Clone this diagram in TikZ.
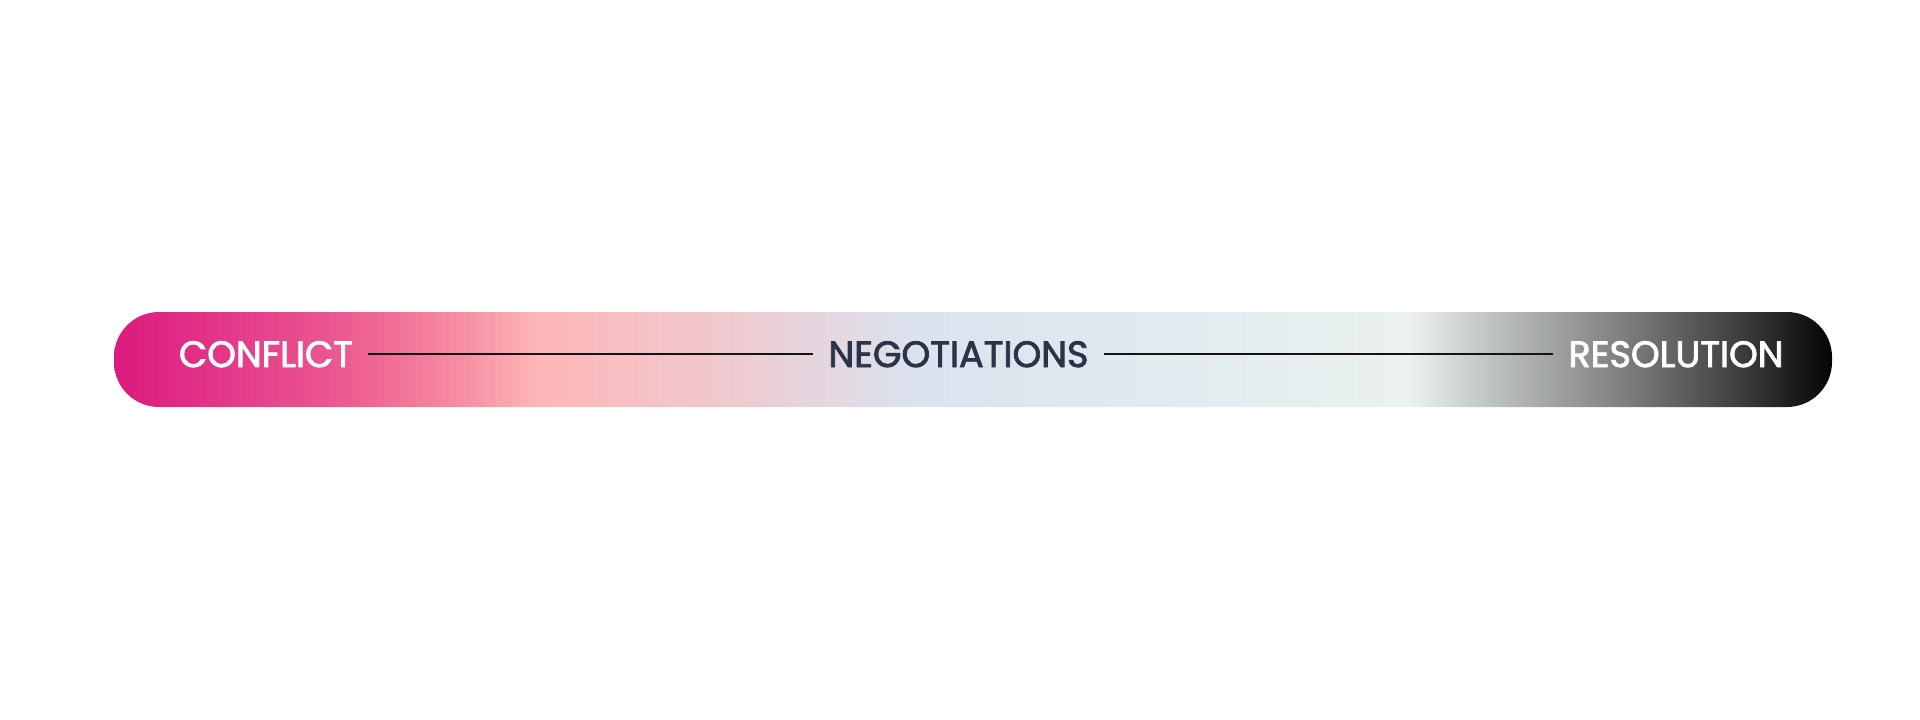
\documentclass[tikz,border=0pt]{standalone}
\usepackage{fontspec}
\setmainfont{Poppins}
\newfontfamily\labelfont{Poppins}[FakeBold=2.2]
\definecolor{navytext}{HTML}{2A3347}
\definecolor{linecol}{HTML}{141414}
\definecolor{s0}{HTML}{DD1A7C}
\definecolor{s1}{HTML}{E4398A}
\definecolor{s2}{HTML}{EC5A90}
\definecolor{s3}{HTML}{F58CA2}
\definecolor{s4}{HTML}{FDB7B8}
\definecolor{s5}{HTML}{F0C8CD}
\definecolor{s6}{HTML}{D9E4EF}
\definecolor{s7}{HTML}{E6EEEF}
\definecolor{s8}{HTML}{ECF1F0}
\definecolor{s9}{HTML}{B9BDBC}
\definecolor{s10}{HTML}{7F817F}
\definecolor{s11}{HTML}{434443}
\definecolor{s12}{HTML}{050505}
\pgfdeclarehorizontalshading{spectrum}{100bp}{%
color(0bp)=(s0); color(25bp)=(s0); color(28.35bp)=(s1); color(31.7bp)=(s2);
color(35bp)=(s3); color(37.4bp)=(s4); color(42.5bp)=(s5); color(48.75bp)=(s6);
color(59.5bp)=(s7); color(62.7bp)=(s8); color(65.35bp)=(s9); color(68.85bp)=(s10);
color(72bp)=(s11); color(75bp)=(s12); color(100bp)=(s12)}
\tikzset{
  label/.style={font=\labelfont\fontsize{36.6}{36.6}\selectfont, inner xsep=15pt, inner ysep=0pt, anchor=base},
  lightlabel/.style={label, text=white},
  darklabel/.style={label, text=navytext},
  connector/.style={draw=linecol, line width=2.4pt},
}
\begin{document}
\begin{tikzpicture}[x=1pt,y=-1pt]
\fill[white] (0,0) rectangle (1920,720);
\useasboundingbox (0,0) rectangle (1920,720);
\shade[shading=spectrum, rounded corners=45pt] (114,312) rectangle (1832,407);
\node[lightlabel] (conflict) at (266,367) {CONFLICT};
\node[darklabel] (negotiations) at (958.5,367) {NEGOTIATIONS};
\node[lightlabel] (resolution) at (1676,367) {RESOLUTION};
\draw[connector] (conflict.east) -- (negotiations.west);
\draw[connector] (negotiations.east) -- (resolution.west);
\end{tikzpicture}
\end{document}
